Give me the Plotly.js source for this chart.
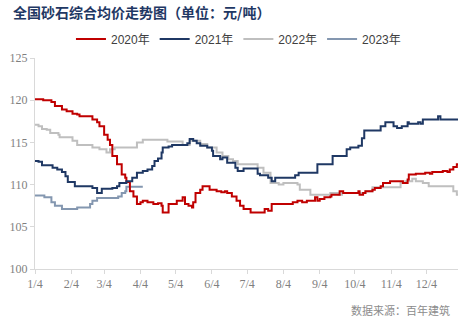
<!DOCTYPE html>
<html>
<head>
<meta charset="utf-8">
<script src="https://cdn.plot.ly/plotly-3.0.1.min.js"></script>
<style>html,body{margin:0;padding:0;background:#fff;}#chart{width:474px;height:324px;}</style>
</head>
<body>
<div id="chart"></div>
<script>
// All series are overlaid on one calendar year (month-day)
const refYear = "2021";
const seriesNames = ["2020年", "2021年", "2022年", "2023年"];

const dates2020 = ["01-04","01-11","01-18","01-21","01-27","01-31","02-05","02-09","02-11","02-22","02-26","02-28","03-04","03-07","03-09","03-11","03-15","03-19","03-22","03-23","03-26","03-29","04-01","04-04","04-06","04-10","04-15","04-19","04-22","04-23","04-28","05-05","05-10","05-12","05-15","05-18","05-19","05-21","05-25","05-27","06-02","06-08","06-12","06-15","06-17","06-21","06-25","06-28","07-01","07-07","07-19","07-22","07-25","08-12","08-16","08-20","08-24","08-31","09-02","09-04","09-08","09-13","09-14","09-21","09-24","10-07","10-08","10-11","10-13","10-19","10-21","10-26","10-28","11-03","11-14","11-18","11-19","11-25","12-03","12-07","12-09","12-18","12-22","12-24","12-27","12-30","12-31"];
const values2020 = [120.1,120.0,119.8,119.3,118.9,118.7,118.4,118.3,118.1,117.7,117.4,116.9,115.9,115.3,114.7,113.4,112.4,111.2,110.8,110.3,109.2,108.6,107.7,107.9,108.1,107.9,107.7,107.8,107.5,106.7,107.7,108.1,108.5,107.7,107.5,107.3,107.9,109.0,109.4,109.8,109.4,109.2,109.1,109.2,109.0,108.6,108.1,107.5,107.1,106.7,107.1,106.9,107.7,107.9,108.1,107.9,108.1,108.5,108.1,108.3,108.5,108.6,108.8,109.2,109.0,109.2,108.8,109.0,109.2,109.4,109.6,109.8,110.2,110.4,110.2,110.6,111.2,111.3,111.4,111.3,111.5,111.6,111.5,111.8,112.1,112.4,112.4];

const dates2021 = ["01-04","01-07","01-10","01-19","01-23","01-27","01-30","02-01","02-07","02-22","02-26","03-02","03-11","03-15","03-17","03-23","03-28","04-01","04-06","04-10","04-14","04-16","04-19","04-22","04-23","04-28","05-01","05-14","05-16","05-19","05-22","05-25","05-31","06-04","06-05","06-11","06-13","06-17","06-24","06-26","07-01","07-13","07-15","07-22","07-25","07-28","08-14","08-17","09-02","09-15","09-27","09-30","10-07","10-10","10-12","10-26","10-30","11-06","11-09","11-13","11-18","11-19","11-27","11-29","12-01","12-14","12-16","12-31"];
const values2021 = [112.8,112.7,112.3,112.0,111.8,111.5,111.0,110.3,109.8,109.6,109.0,109.5,109.6,109.8,110.2,110.4,110.8,111.4,111.6,111.8,112.2,112.8,113.1,113.8,114.4,114.5,114.7,114.9,115.4,115.2,114.9,114.6,114.4,114.0,113.4,113.0,113.2,112.6,112.0,111.6,111.9,111.3,111.1,110.8,110.4,110.8,111.1,111.4,112.4,113.4,114.2,114.4,114.6,115.5,116.4,116.9,117.4,116.9,116.7,116.9,117.4,117.2,117.4,117.2,117.7,118.1,117.7,117.7];

const dates2022 = ["01-04","01-07","01-10","01-14","01-17","01-24","01-25","02-05","02-09","02-22","02-28","03-06","03-09","03-13","04-01","04-06","04-27","05-10","05-16","05-25","05-31","06-08","06-13","06-18","06-22","06-26","07-13","07-18","07-24","07-31","08-04","08-16","08-18","08-27","09-13","09-20","09-23","10-13","10-19","11-12","11-16","11-22","11-25","12-01","12-06","12-27","12-30","12-31"];
const values2022 = [117.1,116.9,116.6,116.5,116.1,115.9,115.6,115.2,114.7,114.4,114.2,113.8,114.2,114.4,115.0,115.3,115.1,114.7,115.2,114.8,114.4,113.8,113.4,113.0,112.8,112.4,112.0,111.4,110.2,110.0,110.2,110.0,109.4,108.8,109.0,108.8,109.0,109.2,109.7,110.2,110.4,110.7,110.4,110.2,109.8,109.2,108.8,108.8];

const dates2023 = ["01-04","01-12","01-18","01-21","01-27","02-09","02-20","02-22","02-26","03-16","03-19","03-22","03-23","04-06"];
const values2023 = [108.7,108.5,107.9,107.5,107.1,107.3,107.7,108.1,108.4,108.6,109.0,109.2,109.75,109.75];

const tickDates = ["01-04","02-04","03-04","04-04","05-04","06-04","07-04","08-04","09-04","10-04","11-04","12-04"];
const tickLabels = ["1/4","2/4","3/4","4/4","5/4","6/4","7/4","8/4","9/4","10/4","11/4","12/4"];

const colors = ["#C00000", "#1F3864", "#BFBFBF", "#8497B0"];
const allDates = [dates2020, dates2021, dates2022, dates2023];
const allValues = [values2020, values2021, values2022, values2023];
const toDate = d => refYear + "-" + d;

const traces = seriesNames.map((name, i) => ({
  type: "scatter",
  mode: "lines",
  name: name,
  x: allDates[i].map(toDate),
  y: allValues[i],
  line: {color: colors[i], width: 2, shape: "hv"},
  hoverinfo: "skip",
  legendrank: i + 1
}));
// draw order: 2022 under others
const ordered = [traces[2], traces[3], traces[0], traces[1]];

const layout = {
  width: 474, height: 324,
  margin: {l: 35, r: 16, t: 58, b: 55},
  paper_bgcolor: "#ffffff", plot_bgcolor: "#ffffff",
  showlegend: true,
  title: {
    text: "全国砂石综合均价走势图（单位：元/吨）",
    x: 13/474, xanchor: "left", xref: "container",
    y: 1 - 13/324, yanchor: "middle", yref: "container",
    font: {family: "Noto Sans CJK SC, sans-serif", size: 14, color: "#1F3864", weight: 700}
  },
  legend: {
    orientation: "h", x: 0.481, xanchor: "center", y: 1.09, yanchor: "middle",
    font: {family: "Liberation Sans, Noto Sans CJK SC, sans-serif", size: 12, color: "#404040"},
    itemwidth: 30, traceorder: "normal", bgcolor: "rgba(0,0,0,0)"
  },
  xaxis: {
    type: "date",
    range: [toDate("01-04"), toDate("12-31")],
    tickvals: tickDates.map(toDate), ticktext: tickLabels,
    showgrid: false, zeroline: false,
    showline: true, linecolor: "#D9D9D9", linewidth: 1,
    ticks: "outside", ticklen: 4, tickcolor: "#D9D9D9",
    tickfont: {family: "Liberation Serif, serif", size: 12, color: "#7F7F7F"},
    fixedrange: true
  },
  yaxis: {
    range: [100, 125], dtick: 5, tick0: 100,
    showgrid: false, zeroline: false,
    showline: true, linecolor: "#D9D9D9", linewidth: 1,
    ticks: "outside", ticklen: 4, tickcolor: "#D9D9D9",
    tickfont: {family: "Liberation Serif, serif", size: 12, color: "#7F7F7F"},
    fixedrange: true
  },
  annotations: [{
    text: "数据来源：百年建筑",
    xref: "paper", yref: "paper", x: 0.986, y: -0.194,
    xanchor: "right", yanchor: "middle", showarrow: false,
    font: {family: "Noto Sans CJK SC, serif", size: 11, color: "#8C8C8C"}
  }]
};

Plotly.newPlot("chart", ordered, layout, {displayModeBar: false, staticPlot: true});
</script>
</body>
</html>
